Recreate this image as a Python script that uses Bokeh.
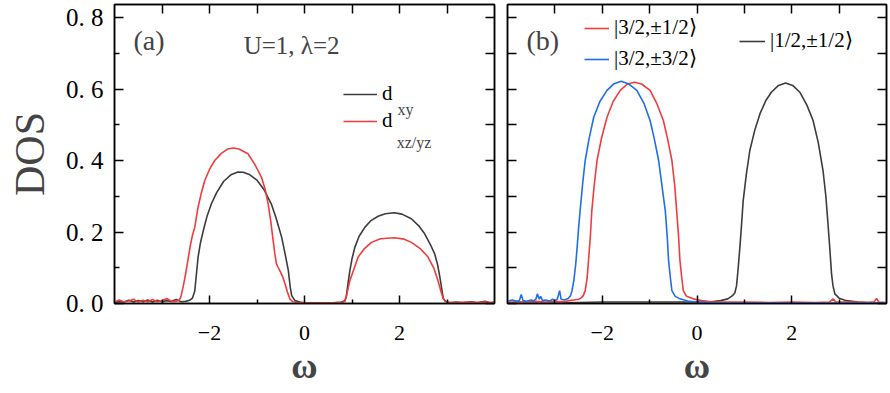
from bokeh.plotting import figure
from bokeh.models import (LinearAxis, FixedTicker, CustomJSTickFormatter, Legend,
                          LegendItem, Label, Range1d, CustomLabelingPolicy)
from bokeh.layouts import row
from bokeh.embed import file_html
from bokeh.resources import INLINE

# ---------------- data (omega, DOS) ----------------
a_dxy = [(-4.0, 0.003), (-3.9, 0.006), (-3.8, 0.004), (-3.7, 0.009), (-3.6, 0.004), (-3.5, 0.008),
         (-3.4, 0.005), (-3.3, 0.010), (-3.2, 0.004), (-3.1, 0.009), (-3.0, 0.005), (-2.9, 0.008),
         (-2.8, 0.006), (-2.7, 0.011), (-2.6, 0.005), (-2.5, 0.006), (-2.42, 0.009), (-2.36, 0.015),
         (-2.31, 0.035), (-2.27, 0.09), (-2.24, 0.13), (-2.19, 0.17), (-2.13, 0.204), (-2.05, 0.245),
         (-1.96, 0.279), (-1.85, 0.31), (-1.7, 0.342), (-1.55, 0.36), (-1.4, 0.368), (-1.29, 0.367),
         (-1.15, 0.36), (-1.0, 0.345), (-0.85, 0.318), (-0.7, 0.279), (-0.6, 0.24), (-0.48, 0.185),
         (-0.41, 0.14), (-0.34, 0.092), (-0.3, 0.045), (-0.27, 0.022), (-0.2, 0.008), (-0.1, 0.004),
         (0.0, 0.002), (0.2, 0.002), (0.4, 0.001), (0.6, 0.002), (0.78, 0.004), (0.85, 0.008),
         (0.88, 0.02), (0.92, 0.06), (0.955, 0.092), (1.0, 0.125), (1.06, 0.157), (1.15, 0.188),
         (1.27, 0.213), (1.4, 0.232), (1.55, 0.244), (1.7, 0.251), (1.89, 0.254), (2.05, 0.25),
         (2.25, 0.237), (2.4, 0.218), (2.53, 0.195), (2.65, 0.165), (2.74, 0.139), (2.8, 0.11),
         (2.85, 0.074), (2.89, 0.04), (2.92, 0.015), (2.97, 0.006), (3.05, 0.003), (3.2, 0.004),
         (3.35, 0.002), (3.5, 0.005), (3.65, 0.003), (3.8, 0.006), (3.9, 0.002), (4.0, 0.004)]

a_dxzyz = [(-4.0, 0.004), (-3.9, 0.010), (-3.8, 0.004), (-3.7, 0.007), (-3.6, 0.012), (-3.5, 0.004),
           (-3.4, 0.009), (-3.3, 0.005), (-3.2, 0.011), (-3.1, 0.005), (-3.0, 0.008), (-2.9, 0.014),
           (-2.8, 0.006), (-2.7, 0.006), (-2.64, 0.009), (-2.6, 0.02), (-2.55, 0.05), (-2.5, 0.085),
           (-2.45, 0.125), (-2.4, 0.165), (-2.36, 0.19), (-2.31, 0.213), (-2.24, 0.27), (-2.17, 0.31),
           (-2.1, 0.344), (-2.0, 0.375), (-1.89, 0.40), (-1.75, 0.42), (-1.62, 0.432), (-1.5, 0.435),
           (-1.38, 0.432), (-1.19, 0.419), (-1.05, 0.39), (-0.905, 0.353), (-0.83, 0.32),
           (-0.765, 0.279), (-0.71, 0.23), (-0.66, 0.176), (-0.62, 0.135), (-0.59, 0.111),
           (-0.55, 0.1), (-0.52, 0.092), (-0.46, 0.075), (-0.41, 0.055), (-0.36, 0.032),
           (-0.31, 0.013), (-0.25, 0.005), (-0.15, 0.003), (0.0, 0.002), (0.3, 0.001), (0.6, 0.002),
           (0.8, 0.003), (0.85, 0.006), (0.89, 0.025), (0.955, 0.064), (1.05, 0.1), (1.13, 0.13),
           (1.25, 0.152), (1.41, 0.171), (1.6, 0.181), (1.89, 0.184), (2.1, 0.18), (2.25, 0.171),
           (2.45, 0.152), (2.6, 0.13), (2.72, 0.1), (2.81, 0.064), (2.87, 0.035), (2.92, 0.013),
           (2.97, 0.005), (3.05, 0.003), (3.2, 0.002), (3.4, 0.004), (3.6, 0.002), (3.8, 0.004),
           (4.0, 0.002)]

b_32_12 = [(-4.0, 0.003), (-3.8, 0.005), (-3.6, 0.004), (-3.4, 0.006), (-3.2, 0.004), (-3.0, 0.006),
           (-2.8, 0.005), (-2.7, 0.008), (-2.6, 0.01), (-2.5, 0.012), (-2.45, 0.015), (-2.4, 0.022),
           (-2.36, 0.036), (-2.32, 0.07), (-2.29, 0.12), (-2.25, 0.19), (-2.22, 0.26), (-2.17, 0.33),
           (-2.11, 0.40), (-2.02, 0.46), (-1.9, 0.521), (-1.77, 0.565), (-1.62, 0.596),
           (-1.47, 0.614), (-1.32, 0.619), (-1.17, 0.614), (-0.99, 0.596), (-0.85, 0.56),
           (-0.71, 0.512), (-0.62, 0.46), (-0.53, 0.40), (-0.47, 0.33), (-0.43, 0.26), (-0.39, 0.19),
           (-0.36, 0.12), (-0.32, 0.07), (-0.29, 0.036), (-0.22, 0.02), (-0.08, 0.013), (0.1, 0.008),
           (0.3, 0.005), (0.6, 0.004), (1.0, 0.004), (1.5, 0.003), (2.0, 0.004), (2.5, 0.003),
           (2.8, 0.004), (2.87, 0.013), (2.93, 0.004), (3.3, 0.004), (3.6, 0.003), (3.74, 0.005),
           (3.79, 0.014), (3.84, 0.004), (4.0, 0.003)]

b_32_32 = [(-4.0, 0.006), (-3.9, 0.01), (-3.8, 0.006), (-3.75, 0.008), (-3.71, 0.025), (-3.67, 0.008),
           (-3.6, 0.006), (-3.5, 0.01), (-3.45, 0.007), (-3.4, 0.012), (-3.37, 0.027), (-3.33, 0.012),
           (-3.3, 0.02), (-3.26, 0.008), (-3.2, 0.01), (-3.1, 0.007), (-3.05, 0.012), (-3.0, 0.008),
           (-2.95, 0.012), (-2.9, 0.036), (-2.87, 0.012), (-2.8, 0.01), (-2.72, 0.014), (-2.67, 0.022),
           (-2.64, 0.035), (-2.6, 0.064), (-2.56, 0.11), (-2.53, 0.157), (-2.5, 0.21), (-2.46, 0.27),
           (-2.41, 0.34), (-2.36, 0.40), (-2.28, 0.46), (-2.18, 0.521), (-2.05, 0.565), (-1.9, 0.596),
           (-1.75, 0.615), (-1.6, 0.622), (-1.45, 0.615), (-1.27, 0.596), (-1.12, 0.56),
           (-0.99, 0.512), (-0.9, 0.46), (-0.81, 0.40), (-0.74, 0.33), (-0.67, 0.26), (-0.63, 0.19),
           (-0.6, 0.12), (-0.56, 0.07), (-0.53, 0.036), (-0.46, 0.02), (-0.36, 0.013), (-0.2, 0.007),
           (0.0, 0.004), (0.3, 0.002), (0.8, 0.001), (1.5, 0.001), (2.5, 0.001), (3.3, 0.001),
           (4.0, 0.001)]

b_12_12 = [(-4.0, 0.001), (-3.0, 0.001), (-2.5, 0.003), (-2.0, 0.004), (-1.0, 0.004), (0.0, 0.004),
           (0.3, 0.005), (0.5, 0.008), (0.65, 0.013), (0.75, 0.022), (0.8, 0.03), (0.835, 0.05),
           (0.87, 0.1), (0.905, 0.157), (0.94, 0.22), (0.975, 0.288), (1.04, 0.36), (1.115, 0.428),
           (1.22, 0.485), (1.33, 0.531), (1.45, 0.567), (1.57, 0.591), (1.72, 0.61), (1.87, 0.617),
           (2.02, 0.61), (2.17, 0.591), (2.32, 0.555), (2.45, 0.512), (2.56, 0.45), (2.66, 0.372),
           (2.72, 0.3), (2.76, 0.232), (2.8, 0.16), (2.84, 0.083), (2.87, 0.05), (2.91, 0.027),
           (3.0, 0.015), (3.15, 0.008), (3.4, 0.004), (3.7, 0.002), (4.0, 0.001)]

x_major = [-2, 0, 2]
x_minor = [-3, -1, 1, 3]
x_top = [-3, -2, -1, 0, 1, 2, 3]
y_major = [0.0, 0.2, 0.4, 0.6, 0.8]
y_minor = [0.1, 0.3, 0.5, 0.7]
y_all = [0.0, 0.1, 0.2, 0.3, 0.4, 0.5, 0.6, 0.7, 0.8]

FONT = "'Liberation Serif'"
GRAY = "#3c3c3c"
RED = "#f03c3c"
BLUE = "#1e6fe3"
LW = 1.6

xfmt = CustomJSTickFormatter(code="return tick < 0 ? '\\u2212' + (-tick) : String(tick);")
yfmt = CustomJSTickFormatter(code="return tick.toFixed(1).replace('.', '. ');")


def xs(d):
    return [p[0] for p in d]


def ys(d):
    return [p[1] for p in d]


def style_axis(ax, major, minor, major_len, minor_len, labels, fmt=None, size="22px", standoff=0):
    ax.ticker = FixedTicker(ticks=major, minor_ticks=minor)
    ax.major_tick_in = major_len
    ax.major_tick_out = 0
    ax.minor_tick_in = minor_len
    ax.minor_tick_out = 0
    ax.axis_line_color = "black"
    ax.axis_line_width = 1.5
    ax.major_tick_line_color = "black"
    ax.major_tick_line_width = 1.5
    ax.minor_tick_line_color = "black"
    ax.minor_tick_line_width = 1.5
    if labels:
        ax.formatter = fmt
        ax.major_label_text_font = FONT
        ax.major_label_text_font_size = size
        ax.major_label_text_color = "black"
        ax.major_label_standoff = standoff
    else:
        ax.major_label_policy = CustomLabelingPolicy(
            code="for (const i of indices) { indices.unset(i) } return indices")
        ax.major_label_text_font_size = "1px"
        ax.major_label_standoff = 0


def make_fig(width, left, right, ylabel):
    p = figure(width=width, height=393, x_range=Range1d(-4, 4), y_range=Range1d(0, 0.8364),
               output_backend="svg", toolbar_location=None,
               min_border_left=left, min_border_right=right, min_border_top=4, min_border_bottom=90)
    p.grid.visible = False
    p.outline_line_color = "black"
    p.outline_line_width = 1.5
    bx = p.xaxis[0]
    style_axis(bx, x_major, x_minor, 8, 4, True, xfmt, "22px", 22)
    bx.axis_label = "ω"
    bx.axis_label_text_font = FONT
    bx.axis_label_text_font_style = "bold"
    bx.axis_label_text_font_size = "36px"
    bx.axis_label_standoff = 3
    ly = p.yaxis[0]
    if ylabel:
        style_axis(ly, y_major, y_minor, 9, 5, True, yfmt, "25px", 11)
        ly.axis_label = ylabel
        ly.axis_label_text_font = FONT
        ly.axis_label_text_font_style = "normal"
        ly.axis_label_text_font_size = "42px"
        ly.axis_label_standoff = 10
    else:
        style_axis(ly, y_all, [], 9, 0, False)
    top = LinearAxis()
    style_axis(top, x_top, [], 9, 0, False)
    p.add_layout(top, "above")
    rt = LinearAxis()
    style_axis(rt, y_all, [], 9, 0, False)
    p.add_layout(rt, "right")
    return p


def legend(items, loc, gw, spacing, lh, size):
    return Legend(items=items, location=loc, orientation="vertical",
                  background_fill_alpha=0, border_line_alpha=0, padding=0, margin=0,
                  spacing=spacing, glyph_width=gw, glyph_height=lh, label_height=lh,
                  label_standoff=5, label_text_font=FONT, label_text_font_size=size,
                  label_text_color="black")


# ---------------- panel (a) ----------------
pa = make_fig(500, 114, 6, "DOS")
r_xy = pa.line(xs(a_dxy), ys(a_dxy), line_color=GRAY, line_width=LW)
r_xz = pa.line(xs(a_dxzyz), ys(a_dxzyz), line_color=RED, line_width=LW)
pa.add_layout(legend([LegendItem(label="d", renderers=[r_xy]),
                      LegendItem(label="d", renderers=[r_xz])], (229, 170), 34, 2, 24, "21px"))
pa.add_layout(Label(x=1.96, y=0.543, text="xy", text_font=FONT, text_font_size="16px",
                    text_baseline="alphabetic"))
pa.add_layout(Label(x=1.94, y=0.450, text="xz/yz", text_font=FONT, text_font_size="16px",
                    text_baseline="alphabetic"))
pa.add_layout(Label(x=-3.6, y=0.736, text="(a)", text_font=FONT, text_font_size="28px",
                    text_baseline="middle"))
pa.add_layout(Label(x=-1.28, y=0.722, text="U=1, λ=2", text_font=FONT, text_font_size="25px",
                    text_baseline="middle"))

# ---------------- panel (b) ----------------
pb = make_fig(390, 7, 3, None)
r_k12 = pb.line(xs(b_12_12), ys(b_12_12), line_color=GRAY, line_width=LW)
r_k32a = pb.line(xs(b_32_12), ys(b_32_12), line_color=RED, line_width=LW)
r_k32b = pb.line(xs(b_32_32), ys(b_32_32), line_color=BLUE, line_width=LW)
pb.add_layout(legend([LegendItem(label="|3/2,±1/2⟩", renderers=[r_k32a]),
                      LegendItem(label="|3/2,±3/2⟩", renderers=[r_k32b])], (77, 232), 25, 6, 24, "21px"))
pb.add_layout(legend([LegendItem(label="|1/2,±1/2⟩", renderers=[r_k12])], (232, 250), 26, 0, 24, "21px"))
pb.add_layout(Label(x=-3.6, y=0.736, text="(b)", text_font=FONT, text_font_size="28px",
                    text_baseline="middle"))

layout = row(pa, pb)
open("out.html", "w").write(file_html(layout, INLINE))
